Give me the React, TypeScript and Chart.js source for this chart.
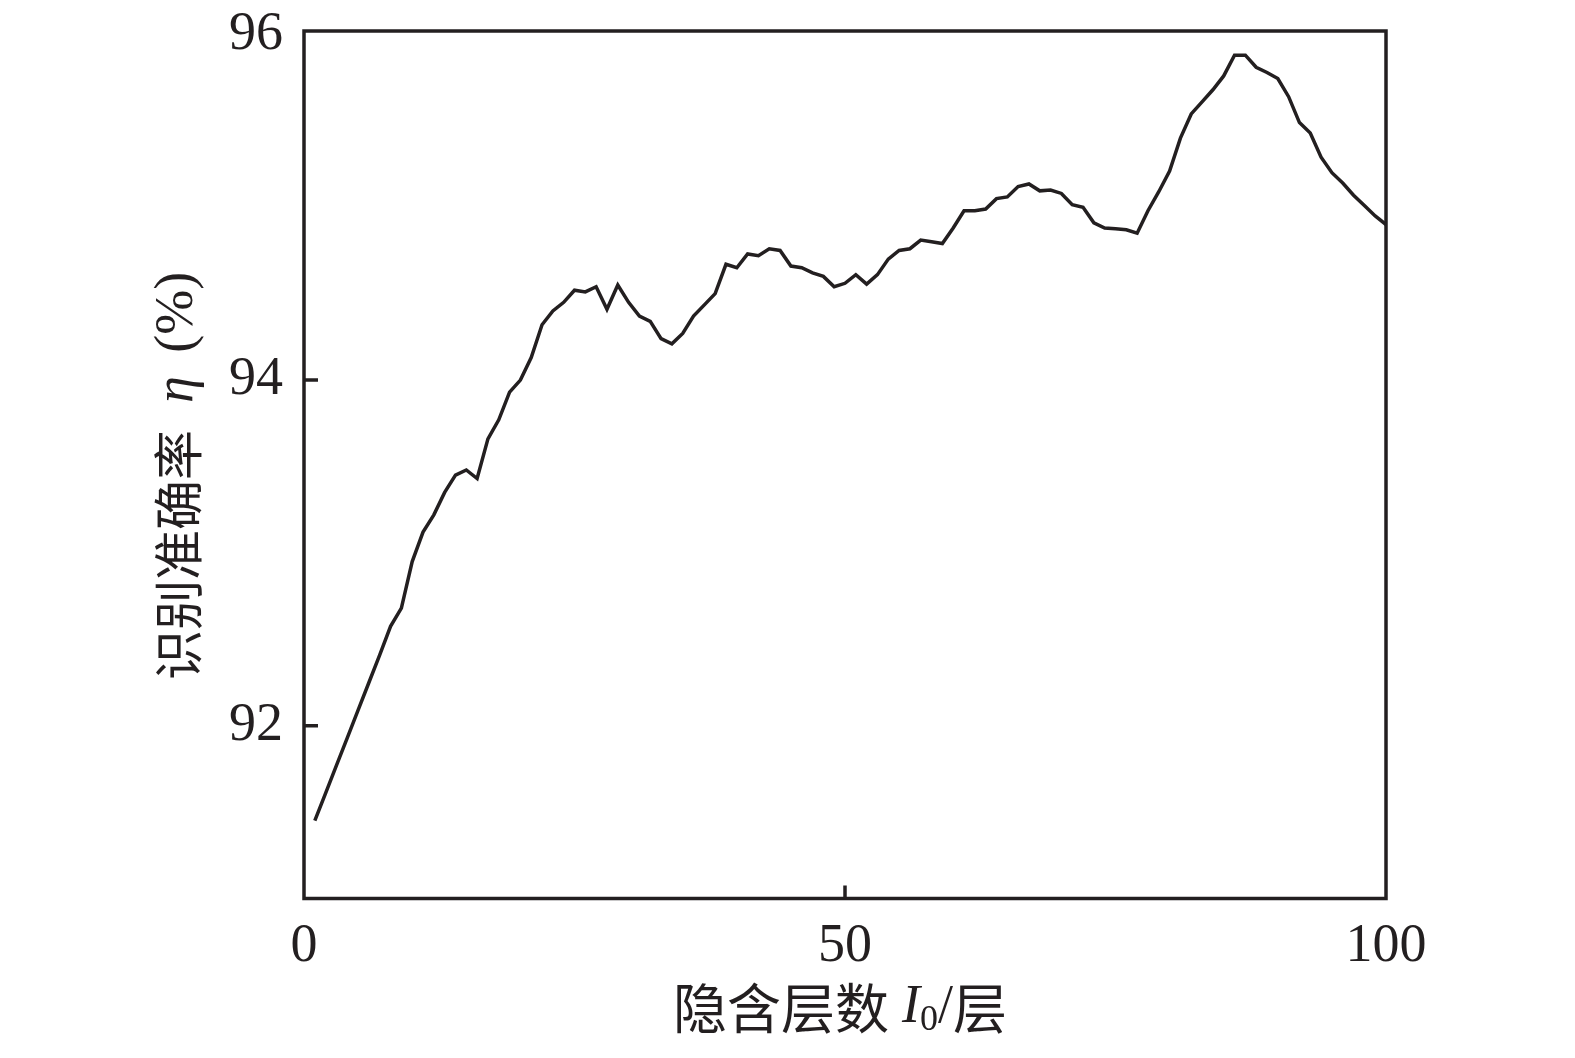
import React, { useEffect, useRef } from "react";
import { Chart, registerables } from "chart.js";

Chart.register(...registerables);

const layers = [
  1, 2, 3, 4, 5, 6, 7, 8, 9, 10, 11, 12, 13, 14, 15, 16, 17, 18, 19, 20,
  21, 22, 23, 24, 25, 26, 27, 28, 29, 30, 31, 32, 33, 34, 35, 36, 37, 38, 39, 40,
  41, 42, 43, 44, 45, 46, 47, 48, 49, 50, 51, 52, 53, 54, 55, 56, 57, 58, 59, 60,
  61, 62, 63, 64, 65, 66, 67, 68, 69, 70, 71, 72, 73, 74, 75, 76, 77, 78, 79, 80,
  81, 82, 83, 84, 85, 86, 87, 88, 89, 90, 91, 92, 93, 94, 95, 96, 97, 98, 99, 100,
];

const accuracy = [
  91.45, 91.61, 91.77, 91.93, 92.09, 92.25, 92.41, 92.575, 92.68, 92.95,
  93.12, 93.22, 93.35, 93.45, 93.48, 93.43, 93.66, 93.77, 93.93, 94.0,
  94.13, 94.32, 94.4, 94.45, 94.52, 94.51, 94.54, 94.41, 94.55, 94.45,
  94.37, 94.34, 94.24, 94.21, 94.27, 94.37, 94.435, 94.5, 94.67, 94.65,
  94.73, 94.72, 94.76, 94.75, 94.66, 94.65, 94.62, 94.6, 94.54, 94.56,
  94.61, 94.555, 94.61, 94.7, 94.75, 94.76, 94.81, 94.8, 94.79, 94.88,
  94.98, 94.98, 94.99, 95.05, 95.06, 95.12, 95.135, 95.095, 95.1, 95.08,
  95.015, 95.0, 94.91, 94.88, 94.875, 94.87, 94.85, 94.98, 95.09, 95.21,
  95.4, 95.54, 95.61, 95.68, 95.76, 95.88, 95.88, 95.81, 95.78, 95.745,
  95.64, 95.49, 95.43, 95.29, 95.2, 95.14, 95.07, 95.01, 94.95, 94.9,
];

const xTicks = [0, 50, 100];
const yTicks = [92, 94, 96];

const INK = "#231f20";
const SERIF = '"Liberation Serif", "DejaVu Serif", serif';
const CJK = '"Noto Sans CJK SC", sans-serif';

type Run = { t: string; font: string; dy?: number; gap?: number };

function drawRuns(ctx: CanvasRenderingContext2D, runs: Run[], cx: number, cy: number) {
  let total = 0;
  const widths = runs.map((r) => {
    ctx.font = r.font;
    const w = ctx.measureText(r.t).width + (r.gap || 0);
    total += w;
    return w;
  });
  let x = cx - total / 2;
  ctx.textAlign = "left";
  ctx.textBaseline = "middle";
  runs.forEach((r, i) => {
    ctx.font = r.font;
    ctx.fillText(r.t, x, cy + (r.dy || 0));
    x += widths[i];
  });
}

const framePlugin = {
  id: "frameAndTitles",
  afterDraw(chart: any) {
    const { ctx, chartArea: a, scales } = chart;
    ctx.save();
    ctx.strokeStyle = INK;
    ctx.lineWidth = 3.5;
    ctx.lineCap = "butt";
    ctx.strokeRect(a.left, a.top, a.right - a.left, a.bottom - a.top);
    ctx.beginPath();
    yTicks.forEach((v) => {
      const y = scales.y.getPixelForValue(v);
      if (y < a.top + 6 || y > a.bottom - 6) return;
      ctx.moveTo(a.left, y);
      ctx.lineTo(a.left + 14, y);
    });
    xTicks.forEach((v) => {
      const x = scales.x.getPixelForValue(v);
      if (x < a.left + 6 || x > a.right - 6) return;
      ctx.moveTo(x, a.bottom);
      ctx.lineTo(x, a.bottom - 13);
    });
    ctx.stroke();

    ctx.fillStyle = INK;
    // x title
    drawRuns(
      ctx,
      [
        { t: "隐含层数", font: `54px ${CJK}` },
        { t: " ", font: `52px ${SERIF}` },
        { t: "I", font: `italic 54px ${SERIF}` },
        { t: "0", font: `36px ${SERIF}`, dy: 13 },
        { t: "/", font: `54px ${SERIF}` },
        { t: "层", font: `54px ${CJK}` },
      ],
      840,
      1008
    );
    // y title
    ctx.translate(178, 476);
    ctx.rotate(-Math.PI / 2);
    drawRuns(
      ctx,
      [
        { t: "识别准确率", font: `50px ${CJK}`, gap: 14 },
        { t: " ", font: `52px ${SERIF}` },
        { t: "η", font: `italic 54px ${SERIF}`, gap: 10 },
        { t: " (%)", font: `54px ${SERIF}` },
      ],
      0,
      0
    );
    ctx.restore();
  },
};

export default function App() {
  const ref = useRef<HTMLCanvasElement | null>(null);
  useEffect(() => {
    if (!ref.current) return;
    const chart = new Chart(ref.current, {
      type: "line",
      data: {
        datasets: [
          {
            data: layers.map((x, i) => ({ x, y: accuracy[i] })),
            borderColor: INK,
            borderWidth: 3.5,
            pointRadius: 0,
            tension: 0,
            fill: false,
          },
        ],
      },
      options: {
        animation: false,
        responsive: false,
        maintainAspectRatio: false,
        layout: { padding: { top: 31, right: 189, left: 0, bottom: 0 } },
        plugins: { legend: { display: false }, tooltip: { enabled: false } },
        scales: {
          x: {
            type: "linear",
            min: 0,
            max: 100,
            afterFit: (s: any) => {
              s.height = 159.5;
              s.paddingLeft = 0;
              s.paddingRight = 0;
            },
            afterBuildTicks: (s: any) => {
              s.ticks = xTicks.map((v) => ({ value: v }));
            },
            grid: { display: false },
            border: { display: false },
            ticks: {
              color: INK,
              padding: 8,
              maxRotation: 0,
              font: { family: SERIF, size: 54 },
            },
          },
          y: {
            type: "linear",
            min: 91,
            max: 96.02,
            afterFit: (s: any) => {
              s.width = 304;
              s.paddingTop = 0;
              s.paddingBottom = 0;
            },
            afterBuildTicks: (s: any) => {
              s.ticks = yTicks.map((v) => ({ value: v }));
            },
            grid: { display: false },
            border: { display: false },
            ticks: {
              color: INK,
              padding: 13,
              font: { family: SERIF, size: 54 },
            },
          },
        },
      },
      plugins: [framePlugin],
    });
    return () => chart.destroy();
  }, []);
  return (
    <div style={{ position: "fixed", left: 0, top: 0, width: 1575, height: 1058, background: "#fff" }}>
      <canvas ref={ref} width={1575} height={1058} style={{ width: 1575, height: 1058 }} />
    </div>
  );
}
